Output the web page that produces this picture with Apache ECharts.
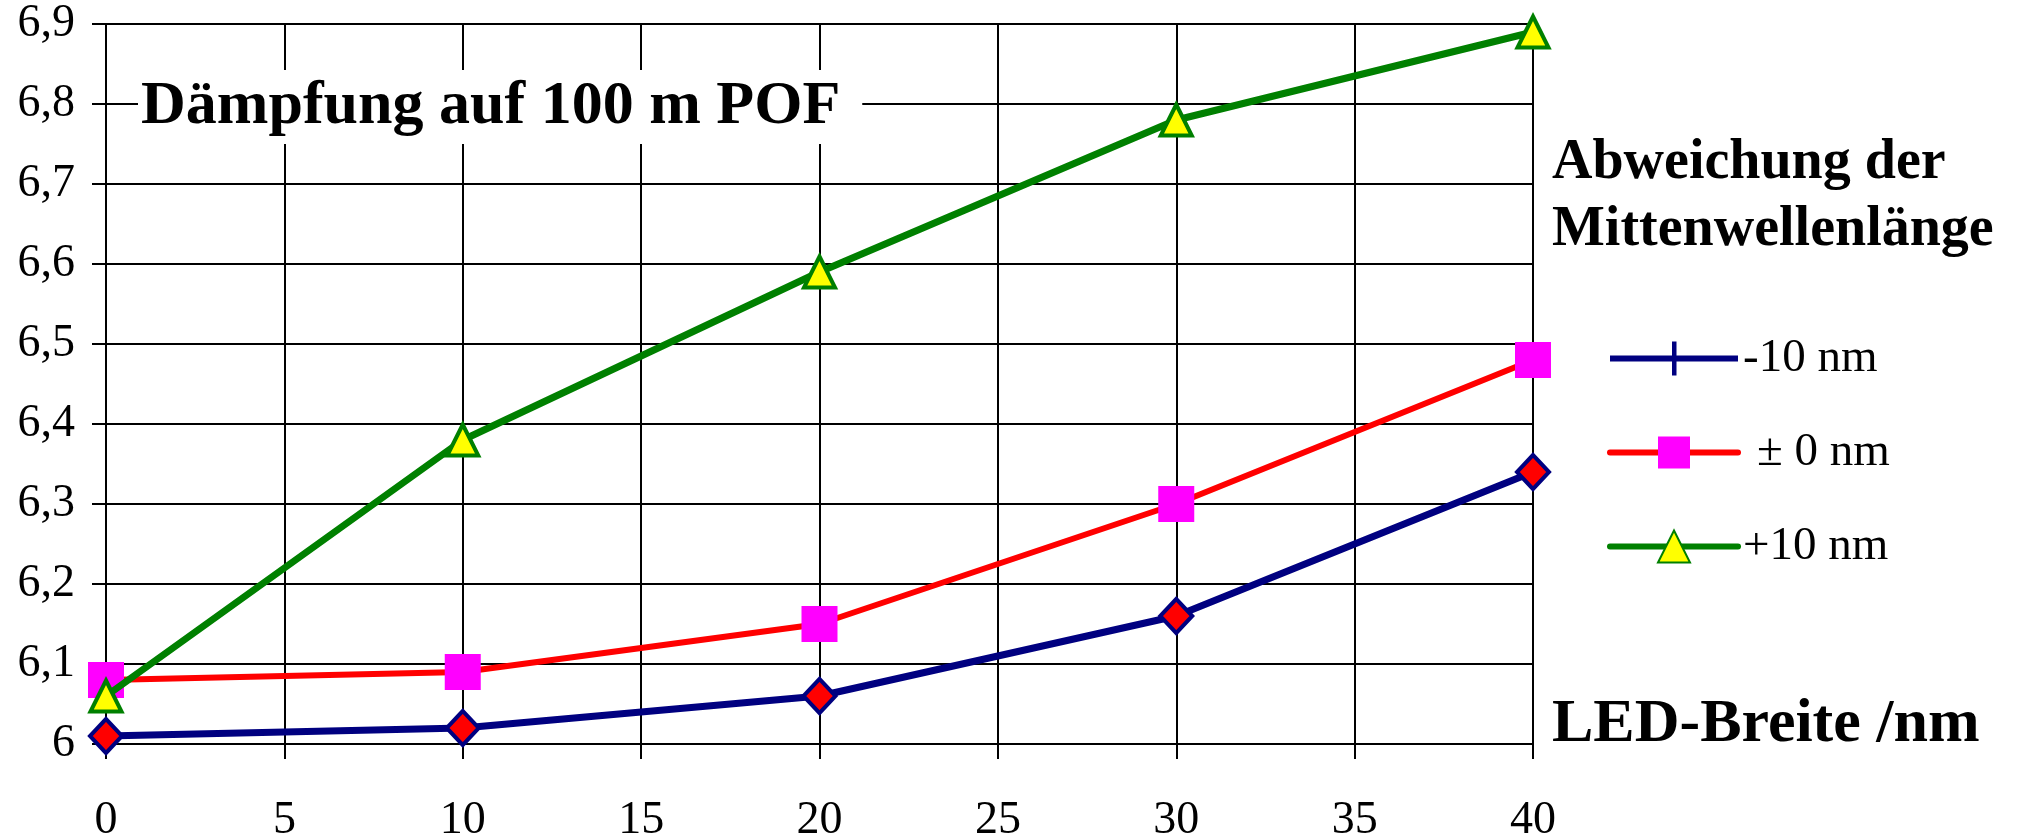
<!DOCTYPE html>
<html>
<head>
<meta charset="utf-8">
<script src="https://cdn.jsdelivr.net/npm/echarts@6/dist/echarts.min.js"></script>
<style>
html,body{margin:0;padding:0;background:#fff;}
#chart{width:2025px;height:835px;}
</style>
</head>
<body>
<div id="chart"></div>
<script>
// LED width (nm)
const ledWidth = [0, 10, 20, 30, 40];
// Attenuation over 100 m POF (dB)
const minus10 = [6.01, 6.02, 6.06, 6.16, 6.34];
const zero = [6.08, 6.09, 6.15, 6.30, 6.48];
const plus10 = [6.06, 6.38, 6.59, 6.78, 6.89];
const seriesNames = ['-10 nm', '± 0 nm', '+10 nm'];

const FONT = '"Liberation Serif", "Times New Roman", serif';
const pair = (xs, ys) => xs.map((x, i) => [x, ys[i]]);

const chart = echarts.init(document.getElementById('chart'), null, {renderer: 'canvas'});
chart.setOption({
  animation: false,
  backgroundColor: '#fff',
  grid: {left: 106, right: 492, top: 24, bottom: 91, containLabel: false, outerBoundsMode: 'none'},
  title: [
    {
      text: 'Dämpfung auf 100 m POF',
      left: 138, top: 70,
      backgroundColor: '#fff',
      padding: [0, 22, 0, 3],
      textStyle: {fontFamily: FONT, fontWeight: 'bold', fontSize: 62, lineHeight: 74, color: '#000'}
    },
    {
      text: 'Abweichung der\nMittenwellenlänge',
      left: 1552, top: 130,
      padding: 0,
      textStyle: {fontFamily: FONT, fontWeight: 'bold', fontSize: 56, lineHeight: 67, color: '#000'}
    },
    {
      text: 'LED-Breite /nm',
      left: 1552, top: 690,
      padding: 0,
      textStyle: {fontFamily: FONT, fontWeight: 'bold', fontSize: 62, lineHeight: 70, color: '#000'}
    }
  ],
  legend: {
    orient: 'vertical',
    left: 1602, top: 330,
    itemWidth: 128, itemHeight: 40, itemGap: 47,
    textStyle: {fontFamily: FONT, fontSize: 47, color: '#000'},
    data: [
      {
        name: seriesNames[0],
        icon: 'path://M0,17h128v6h-128z M62,3h4.5v34h-4.5z M0,0h0.01v0.01h-0.01z M127.99,39.99h0.01v0.01h-0.01z',
        itemStyle: {color: '#000080', borderWidth: 0}
      },
      {name: seriesNames[1], textStyle: {padding: [0, 0, 0, 14]}, lineStyle: {width: 6, color: '#ff0000'}},
      {name: seriesNames[2], lineStyle: {width: 6, color: '#008000'}}
    ]
  },
  xAxis: {
    type: 'value', min: 0, max: 40, interval: 5,
    axisLine: {show: true, onZero: false, lineStyle: {color: '#000', width: 2}},
    axisTick: {show: true, length: 15, lineStyle: {color: '#000', width: 2}},
    splitLine: {show: true, lineStyle: {color: '#000', width: 2}},
    axisLabel: {margin: 54, fontFamily: FONT, fontSize: 46, color: '#000'}
  },
  yAxis: {
    type: 'value', min: 6, max: 6.9, interval: 0.1,
    axisLine: {show: true, lineStyle: {color: '#000', width: 2}},
    axisTick: {show: true, length: 14, lineStyle: {color: '#000', width: 2}},
    splitLine: {show: true, lineStyle: {color: '#000', width: 2}},
    axisLabel: {
      margin: 31, fontFamily: FONT, fontSize: 46, color: '#000',
      formatter: v => String(Math.round(v * 10) / 10).replace('.', ',')
    }
  },
  series: [
    {
      name: seriesNames[0], type: 'line', data: pair(ledWidth, minus10),
      symbol: 'diamond', symbolSize: [32, 34],
      lineStyle: {color: '#000080', width: 7, cap: 'round'},
      itemStyle: {color: '#ff0000', borderColor: '#000080', borderWidth: 4},
      z: 3
    },
    {
      name: seriesNames[1], type: 'line', data: pair(ledWidth, zero),
      symbol: 'rect', symbolSize: 36,
      lineStyle: {color: '#ff0000', width: 6, cap: 'round'},
      itemStyle: {color: '#ff00ff', borderWidth: 0},
      z: 4
    },
    {
      name: seriesNames[2], type: 'line', data: pair(ledWidth, plus10),
      symbol: 'triangle', symbolSize: 31,
      lineStyle: {color: '#008000', width: 7, cap: 'round'},
      itemStyle: {color: '#ffff00', borderColor: '#008000', borderWidth: 4},
      z: 5
    }
  ]
});
</script>
</body>
</html>
